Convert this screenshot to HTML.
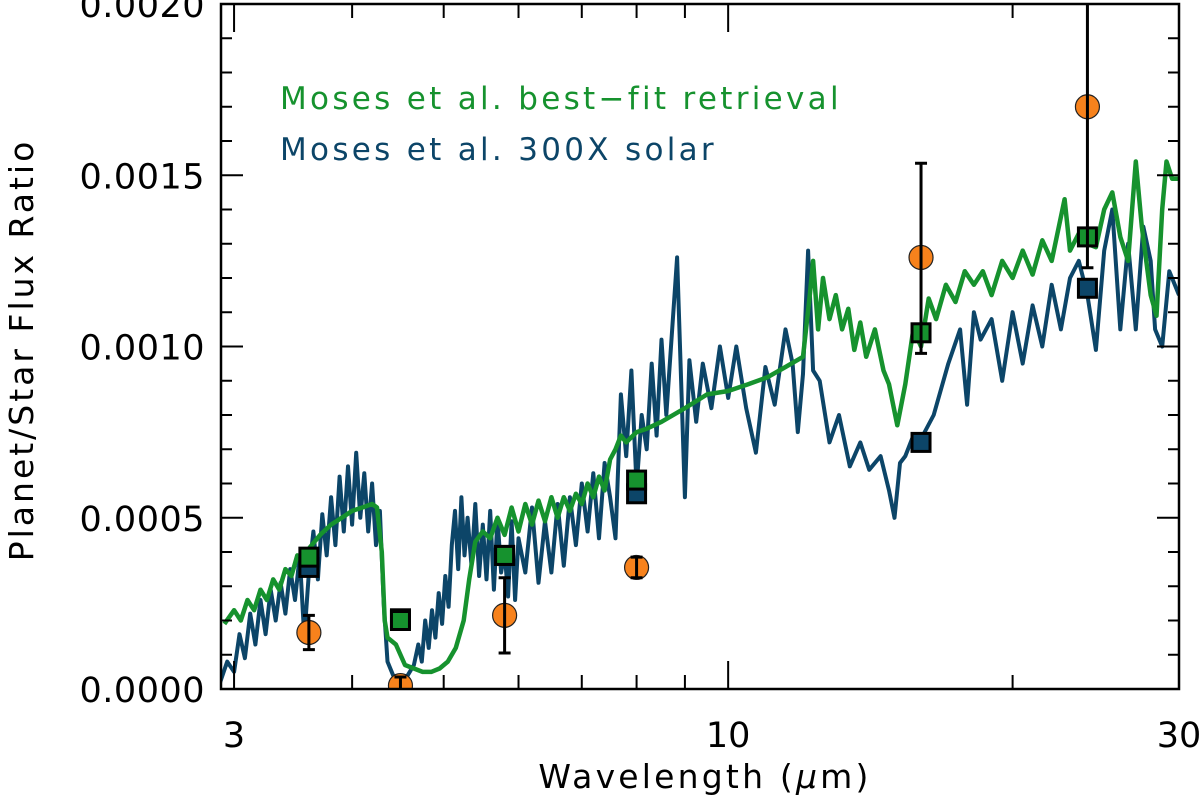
<!DOCTYPE html>
<html><head><meta charset="utf-8">
<style>
html,body{margin:0;padding:0;background:#fff;}
svg{display:block;font-family:"DejaVu Sans","Liberation Sans",sans-serif;}
</style></head>
<body>
<svg id="chart" width="1200" height="809" viewBox="0 0 1200 809" xmlns="http://www.w3.org/2000/svg">
<g id="series"></g>
<g id="axes"></g>
<text x="280" y="109" font-size="31" letter-spacing="3.3" fill="#16922e">Moses et al. best−fit retrieval</text>
<text x="280" y="160" font-size="31" letter-spacing="3.3" fill="#0c4568">Moses et al. 300X solar</text>
<text transform="translate(33,350) rotate(-90)" text-anchor="middle" font-size="33" letter-spacing="3">Planet/Star Flux Ratio</text>
<text x="705" y="788" text-anchor="middle" font-size="33" letter-spacing="3.2">Wavelength (<tspan font-style="italic">μ</tspan>m)</text>
</svg>
<script>
// ---- data (flux values in units of 1e-4) ----
const UNIT = 1e-4;
const blueWl = [2.90,2.95,3.00,3.04,3.08,3.12,3.16,3.20,3.24,3.28,3.32,3.36,3.40,3.44,3.48,3.52,3.56,3.60,3.64,3.68,3.72,3.76,3.80,3.84,3.88,3.92,3.96,4.00,4.04,4.08,4.12,4.16,4.20,4.24,4.28,4.32,4.36,4.42,4.50,4.58,4.65,4.70,4.74,4.78,4.82,4.86,4.90,4.94,4.98,5.02,5.06,5.10,5.14,5.18,5.22,5.26,5.30,5.35,5.40,5.45,5.50,5.55,5.60,5.65,5.70,5.75,5.80,5.85,5.90,5.95,6.00,6.10,6.20,6.30,6.40,6.50,6.60,6.70,6.80,6.90,7.00,7.10,7.20,7.30,7.40,7.50,7.60,7.70,7.80,7.90,8.00,8.10,8.20,8.30,8.40,8.50,8.60,8.70,8.83,9.00,9.10,9.25,9.40,9.60,9.80,10.0,10.2,10.45,10.7,10.95,11.2,11.5,11.7,11.85,12.0,12.15,12.3,12.5,12.8,13.1,13.45,13.8,14.1,14.5,14.8,15.0,15.2,15.4,15.7,16.0,16.5,17.1,17.6,17.9,18.2,18.5,19.0,19.5,20.0,20.5,21.0,21.5,22.0,22.5,23.0,23.5,24.0,24.5,25.0,25.5,26.0,26.5,27.0,27.5,28.0,28.3,28.8,29.3,30.0];
const blueVal = [0.2,0.8,0.5,1.6,0.9,2.2,1.3,2.6,1.6,2.9,2.0,3.1,2.2,3.5,2.6,3.9,1.5,3.4,4.6,3.2,5.1,3.9,5.6,4.2,6.2,4.6,6.5,4.8,6.9,5.0,6.3,4.6,6.0,4.2,5.2,2.5,0.8,0.4,0.3,0.4,0.7,1.3,0.8,2.0,1.2,2.3,1.5,2.8,1.9,3.3,2.4,4.2,5.2,3.5,5.6,3.9,5.0,3.6,5.4,3.3,4.8,3.2,5.2,2.9,5.0,3.4,4.0,2.7,4.9,2.6,4.4,3.4,5.3,3.1,4.9,3.4,5.4,3.6,5.6,4.2,6.0,4.6,6.3,4.4,6.6,5.6,4.4,8.6,6.8,9.3,5.9,8.0,7.0,9.5,7.4,10.2,8.0,10.0,12.6,5.6,9.6,7.8,9.5,8.2,10.0,8.5,10.0,8.2,6.9,9.4,8.3,10.5,9.5,7.5,9.2,12.8,9.3,9.0,7.2,8.0,6.5,7.2,6.4,6.8,5.8,5.0,6.6,6.8,7.4,7.3,8.0,9.5,10.5,8.3,11.0,10.2,10.8,9.0,11.0,9.5,11.2,10.0,11.8,10.5,12.0,12.5,11.5,9.9,12.8,14.0,10.5,13.0,10.5,13.5,12.5,10.5,10.0,12.2,11.5,13.5];
const greenWl = [2.93,3.00,3.05,3.10,3.15,3.20,3.25,3.30,3.35,3.40,3.45,3.50,3.55,3.60,3.70,3.80,3.90,4.00,4.10,4.20,4.25,4.30,4.33,4.36,4.45,4.55,4.65,4.75,4.85,4.95,5.05,5.15,5.25,5.32,5.40,5.50,5.60,5.70,5.80,5.90,6.00,6.10,6.20,6.30,6.40,6.50,6.60,6.70,6.80,6.90,7.00,7.10,7.20,7.30,7.40,7.50,7.60,7.70,7.80,8.00,8.20,8.50,9.00,9.50,10.0,10.5,11.0,11.5,12.0,12.2,12.3,12.45,12.6,12.8,13.0,13.2,13.4,13.6,13.8,14.0,14.3,14.6,14.8,15.1,15.4,15.7,16.0,16.3,16.6,17.0,17.4,17.8,18.2,18.6,19.0,19.5,20.0,20.5,21.0,21.5,22.0,22.7,23.0,23.5,24.0,24.5,25.0,25.5,26.0,26.5,27.0,27.4,28.0,28.4,28.8,29.1,29.5,30.0];
const greenVal = [1.9,2.3,2.0,2.6,2.3,2.9,2.6,3.2,2.9,3.5,3.3,3.9,3.7,4.1,4.5,4.8,5.0,5.2,5.3,5.4,5.3,4.0,2.0,1.5,1.3,0.7,0.6,0.5,0.5,0.6,0.8,1.2,2.0,3.2,4.3,4.6,4.4,5.0,4.5,5.3,4.6,5.4,4.8,5.5,4.9,5.6,5.0,5.6,5.2,5.7,5.4,6.0,5.6,6.2,5.8,6.7,7.0,7.4,7.2,7.5,7.6,7.8,8.2,8.6,8.7,8.9,9.1,9.4,9.7,11.5,12.5,10.5,12.0,10.8,11.5,10.5,11.1,9.9,10.7,9.7,10.5,9.3,8.9,7.7,8.9,10.5,10.0,11.4,10.8,11.8,11.3,12.2,11.8,12.2,11.5,12.5,12.0,12.8,12.1,13.1,12.5,14.3,12.8,13.3,13.0,12.9,14.0,14.5,13.2,12.5,15.4,13.5,11.5,10.9,14.0,15.4,14.9,14.9];
const bandWl = [3.6,4.5,5.8,8.0,16.0,24.0];
const obsVal = [1.65,0.1,2.15,3.55,12.6,17.0];
const obsErrLo = [0.5,0.25,1.1,0.3,2.8,4.7];
const obsErrHi = [0.5,0.25,1.1,0.3,2.75,4.7];
const bestFitBand = [3.85,2.0,3.9,6.1,10.4,13.2];
const solarBand = [3.55,2.05,3.9,5.7,7.2,11.7];
const yTicks = [0,5,10,15,20];
const yTickLabels = ["0.0000","0.0005","0.0010","0.0015","0.0020"];
const xLabeled = [3,10,30];
const xMinor = [4,5,6,7,8,9,20];

// ---- scales ----
const L=221,R=1179,T=4,B=689, XMIN=2.906, XMAX=30, YMAX=20;
const NS="http://www.w3.org/2000/svg";
function x(w){return L+(Math.log10(w)-Math.log10(XMIN))/(Math.log10(XMAX)-Math.log10(XMIN))*(R-L);}
function y(v){return B-(v/YMAX)*(B-T);}
function mk(tag,attrs,parent){const e=document.createElementNS(NS,tag);for(const k in attrs)e.setAttribute(k,attrs[k]);parent.appendChild(e);return e;}
const S=document.getElementById('series'), A=document.getElementById('axes');

const clip=mk('clipPath',{id:'plotclip'},S);
mk('rect',{x:L,y:T,width:R-L,height:B-T},clip);
const gLines=mk('g',{'clip-path':'url(#plotclip)'},S);

const bp=mk('path',{d:blueWl.map((w,i)=>(i?'L':'M')+x(w).toFixed(1)+','+y(blueVal[i]).toFixed(1)).join(''),fill:'none',stroke:'#0c4568','stroke-width':4,'stroke-linejoin':'round'},gLines);


const gp=mk('path',{d:greenWl.map((w,i)=>(i?'L':'M')+x(w).toFixed(1)+','+y(greenVal[i]).toFixed(1)).join(''),fill:'none',stroke:'#16922e','stroke-width':4.5,'stroke-linejoin':'round'},gLines);



const gPts=mk('g',{'clip-path':'url(#plotclip)'},S);
bandWl.forEach((w,i)=>{
  const cx=x(w);
  const sb=mk('rect',{x:cx-9,y:y(solarBand[i])-9,width:18,height:18,fill:'#0c4568',stroke:'#000','stroke-width':3},gPts);
  
  
  const gb=mk('rect',{x:cx-9,y:y(bestFitBand[i])-9,width:18,height:18,fill:'#16922e',stroke:'#000','stroke-width':3},gPts);
  
  
  const c=mk('circle',{cx:cx,cy:y(obsVal[i]),r:12,fill:'#f7821c',stroke:'#222','stroke-width':1.2},gPts);
  
  
  const y1=y(obsVal[i]+obsErrHi[i]), y2=y(obsVal[i]-obsErrLo[i]);
  const eb=mk('path',{d:`M${cx},${y1}L${cx},${y2}M${cx-6},${y1}L${cx+6},${y1}M${cx-6},${y2}L${cx+6},${y2}`,stroke:'#000','stroke-width':3,fill:'none'},gPts);
  
  
});

// ---- axes ----
const frame=mk('rect',{x:L,y:T,width:R-L,height:B-T,fill:'none',stroke:'#000','stroke-width':2.5},A);


for(let v=0;v<=YMAX;v+=1){
  const len=(v%5===0)?22:11, yy=y(v);
  mk('line',{x1:L,x2:L+len,y1:yy,y2:yy,stroke:'#000','stroke-width':2},A);
  mk('line',{x1:R,x2:R-len,y1:yy,y2:yy,stroke:'#000','stroke-width':2},A);
}
yTicks.forEach((v,i)=>{
  const t=mk('text',{x:205,y:y(v)+13,'text-anchor':'end','font-size':35,'letter-spacing':0.5},A);
  t.textContent=yTickLabels[i];
  
  
});
xLabeled.forEach(w=>{
  const xx=x(w);
  mk('line',{x1:xx,x2:xx,y1:B,y2:B-28,stroke:'#000','stroke-width':2},A);
  mk('line',{x1:xx,x2:xx,y1:T,y2:T+28,stroke:'#000','stroke-width':2},A);
  const t=mk('text',{x:xx,y:747,'text-anchor':'middle','font-size':35},A);
  t.textContent=String(w);
  
  
});
xMinor.forEach(w=>{
  const xx=x(w);
  mk('line',{x1:xx,x2:xx,y1:B,y2:B-14,stroke:'#000','stroke-width':2},A);
  mk('line',{x1:xx,x2:xx,y1:T,y2:T+14,stroke:'#000','stroke-width':2},A);
});
</script>
</body></html>
